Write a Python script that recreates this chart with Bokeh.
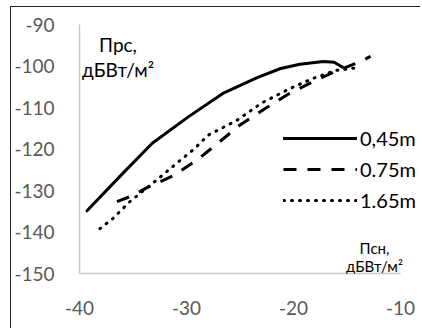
from bokeh.plotting import figure
from bokeh.models import Range1d, Legend, LegendItem, Label, FixedTicker
from bokeh.embed import file_html
from bokeh.resources import INLINE

# --- data ---
x_045 = [-39.3, -36.0, -33.2, -29.8, -26.6, -23.4, -21.2, -19.4, -17.2, -16.2, -15.4]
y_045 = [-134.9, -126.0, -118.6, -112.2, -106.6, -102.8, -100.6, -99.6, -98.9, -99.1, -100.3]

x_075 = [-36.5, -35.3, -33.6, -31.2, -29.1, -27.3, -25.0, -22.5, -20.5, -18.2, -16.0, -13.8, -12.8]
y_075 = [-132.7, -131.5, -129.2, -126.4, -122.8, -119.1, -114.2, -110.0, -106.8, -103.8, -101.2, -99.0, -97.7]

x_165 = [-38.1, -36.9, -35.3, -32.8, -30.9, -29.2, -28.0, -25.3, -22.9, -20.3, -18.2, -16.1, -14.0]
y_165 = [-139.2, -136.8, -132.7, -127.5, -123.4, -119.8, -116.7, -113.1, -108.8, -105.4, -103.0, -101.1, -100.4]

labels = ["0,45m", "0.75m", "1.65m"]
x_ticks = [-40, -30, -20, -10]
y_ticks = [-150, -140, -130, -120, -110, -100, -90]

FONT = "Lato"
GRAY = "#595959"

# frame: left 80, top ~24.5, bottom 274 (page px); -10 sits at x=401
p = figure(width=410, height=322, output_backend="svg", toolbar_location=None,
           x_range=Range1d(-40, -40 + 342 / 10.7), y_range=Range1d(-150, -90),
           min_border_left=68, min_border_right=0, min_border_top=17, min_border_bottom=56)
p.styles = {"margin-left": "10px", "margin-top": "6px",
            "border-left": "1.5px solid #262626", "border-top": "1.5px solid #262626"}
p.outline_line_color = None
p.grid.grid_line_color = None

for ax in (p.xaxis[0], p.yaxis[0]):
    ax.axis_line_color = "#c8c8c8"
    ax.axis_line_width = 1.5
    ax.major_tick_line_color = None
    ax.minor_tick_line_color = None
    ax.major_tick_out = 0
    ax.major_tick_in = 0
    ax.major_label_text_font = FONT
    ax.major_label_text_font_size = "19px"
    ax.major_label_text_color = GRAY
p.xaxis.ticker = FixedTicker(ticks=x_ticks)
p.yaxis.ticker = FixedTicker(ticks=y_ticks)
p.xaxis.major_label_overrides = {t: str(t) for t in x_ticks}
p.yaxis.major_label_overrides = {t: str(t) for t in y_ticks}
p.xaxis.bounds = (x_ticks[0], x_ticks[-1])
p.xaxis.major_label_standoff = 27
p.yaxis.major_label_standoff = 25

r1 = p.line(x_045, y_045, line_color="black", line_width=3, line_join="round", line_cap="round")
r2 = p.line(x_075, y_075, line_color="black", line_width=3, line_dash="13 11")
r3 = p.line(x_165, y_165, line_color="black", line_width=3, line_dash="1 7", line_cap="round")

legend = Legend(items=[LegendItem(label=labels[0], renderers=[r1]),
                       LegendItem(label=labels[1], renderers=[r2]),
                       LegendItem(label=labels[2], renderers=[r3])],
                location=(204, 61.5), padding=0, margin=0, spacing=7,
                glyph_width=74, glyph_height=20, label_height=20, label_standoff=3,
                label_text_font=FONT, label_text_font_size="20px", label_text_color="black",
                border_line_alpha=0, background_fill_alpha=0)
p.add_layout(legend, "center")

# axis titles
for txt, yy in (("Прс,", 229), ("дБВт/м²", 204)):
    p.add_layout(Label(x=38.5, y=yy, x_units="screen", y_units="screen", text=txt,
                       text_align="center", text_baseline="alphabetic",
                       text_font=FONT, text_font_size="19px", text_color="black"))
for txt, yy in (("Псн,", 26), ("дБВт/м²", 8)):
    p.add_layout(Label(x=295, y=yy, x_units="screen", y_units="screen", text=txt,
                       text_align="center", text_baseline="alphabetic",
                       text_font=FONT, text_font_size="15px", text_color="black"))

open("out.html", "w").write(file_html(p, INLINE))
